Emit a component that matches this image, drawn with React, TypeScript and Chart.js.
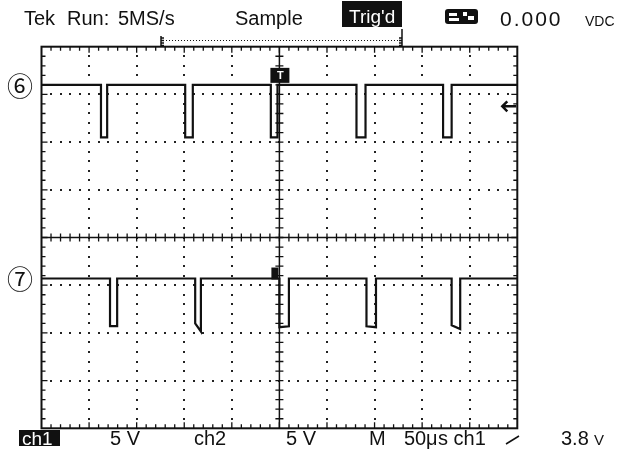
import React, { useEffect, useRef } from "react";
import { Chart, registerables } from "chart.js";

Chart.register(...registerables);

// ---- Data (oscilloscope divisions: x 0..10, y -4..4) ----
const xRange = [0, 10];
const yRange = [-4, 4];

const ch6HighLevel = 3.2;
const ch6LowLevel = 2.1;
const ch6FallEdges = [1.25, 3.02, 4.82, 6.62, 8.44];
const ch6RiseEdges = [1.38, 3.18, 4.96, 6.81, 8.62];

const ch7HighLevel = -0.86;
const ch7FallEdges = [1.44, 3.23, 5.0, 6.83, 8.62];
const ch7RiseEdges = [1.59, 3.35, 5.2, 7.03, 8.8];
const ch7LowStart = [-1.86, -1.8, -1.88, -1.86, -1.84];
const ch7LowEnd = [-1.86, -1.97, -1.86, -1.88, -1.92];

const headerLabels = ["Tek", "Run:", "5MS/s", "Sample"];
const footerLabels = ["5 V", "ch2", "5 V", "M"];

function buildTrace(high: number, falls: number[], rises: number[], lowA: number[], lowB: number[]) {
  const pts: { x: number; y: number }[] = [{ x: xRange[0], y: high }];
  for (let i = 0; i < falls.length; i++) {
    pts.push({ x: falls[i], y: high });
    pts.push({ x: falls[i], y: lowA[i] });
    pts.push({ x: rises[i], y: lowB[i] });
    pts.push({ x: rises[i], y: high });
  }
  pts.push({ x: xRange[1], y: high });
  return pts;
}

const graticule = {
  id: "graticule",
  beforeDatasetsDraw(chart: any) {
    const { ctx, chartArea: a, scales } = chart;
    const xs = scales.x, ys = scales.y;
    ctx.save();
    ctx.fillStyle = "#222";
    for (let i = 1; i < 10; i++) {
      if (i === 5) continue;
      const px = xs.getPixelForValue(i);
      for (let k = 1; k < 40; k++) {
        const py = ys.getPixelForValue(-4 + k * 0.2);
        ctx.fillRect(Math.round(px) - 1, Math.round(py) - 1, 2, 2);
      }
    }
    for (let j = -3; j <= 3; j++) {
      if (j === 0) continue;
      const py = ys.getPixelForValue(j);
      for (let k = 1; k < 50; k++) {
        const px = xs.getPixelForValue(k * 0.2);
        ctx.fillRect(Math.round(px) - 1, Math.round(py) - 1, 2, 2);
      }
    }
    ctx.strokeStyle = "#111";
    const cx = xs.getPixelForValue(5), cy = ys.getPixelForValue(0);
    ctx.lineWidth = 1.5;
    ctx.beginPath();
    ctx.moveTo(a.left, cy); ctx.lineTo(a.right, cy);
    ctx.moveTo(cx, a.top); ctx.lineTo(cx, a.bottom);
    ctx.stroke();
    ctx.lineWidth = 1.3;
    ctx.beginPath();
    for (let k = 1; k < 50; k++) {
      const px = xs.getPixelForValue(k * 0.2);
      ctx.moveTo(px, cy - 4); ctx.lineTo(px, cy + 4);
      ctx.moveTo(px, a.top); ctx.lineTo(px, a.top + (k % 5 === 0 ? 6 : 4));
      ctx.moveTo(px, a.bottom); ctx.lineTo(px, a.bottom - (k % 5 === 0 ? 6 : 4));
    }
    for (let k = 1; k < 40; k++) {
      const py = ys.getPixelForValue(-4 + k * 0.2);
      ctx.moveTo(cx - 4, py); ctx.lineTo(cx + 4, py);
      ctx.moveTo(a.left, py); ctx.lineTo(a.left + (k % 5 === 0 ? 6 : 4), py);
      ctx.moveTo(a.right, py); ctx.lineTo(a.right - (k % 5 === 0 ? 6 : 4), py);
    }
    ctx.stroke();
    ctx.lineWidth = 2;
    ctx.strokeRect(a.left, a.top, a.right - a.left, a.bottom - a.top);
    ctx.restore();
  },
  afterDatasetsDraw(chart: any) {
    const { ctx, chartArea: a, scales } = chart;
    const xs = scales.x, ys = scales.y;
    ctx.save();
    const cx = xs.getPixelForValue(5);
    const y6 = ys.getPixelForValue(ch6HighLevel);
    ctx.fillStyle = "#111";
    ctx.fillRect(cx - 9, y6 - 17, 19, 15);
    ctx.fillStyle = "#fff";
    ctx.font = "bold 11px 'Liberation Sans'";
    ctx.textAlign = "center";
    ctx.textBaseline = "middle";
    ctx.fillText("T", cx + 1, y6 - 9);
    const y7 = ys.getPixelForValue(ch7HighLevel);
    ctx.fillStyle = "#111";
    ctx.fillRect(cx - 8, y7 - 11, 7, 12);
    const ty = ys.getPixelForValue(2.75);
    ctx.strokeStyle = "#111";
    ctx.lineWidth = 2.5;
    ctx.beginPath();
    ctx.moveTo(a.right - 1, ty); ctx.lineTo(a.right - 15, ty);
    ctx.moveTo(a.right - 10, ty - 5); ctx.lineTo(a.right - 15, ty); ctx.lineTo(a.right - 10, ty + 5);
    ctx.stroke();
    ctx.restore();
  },
  afterDraw(chart: any) {
    const { ctx } = chart;
    ctx.save();
    ctx.fillStyle = "#111";
    ctx.textAlign = "left";
    ctx.textBaseline = "alphabetic";
    const f = "'Liberation Sans', Arial, sans-serif";
    ctx.font = `20px ${f}`;
    const hx = [24, 67, 118, 235];
    headerLabels.forEach((t, i) => ctx.fillText(t, hx[i], 25));
    ctx.fillRect(342, 1, 60, 26);
    ctx.fillStyle = "#fff";
    ctx.font = `19px ${f}`;
    ctx.fillText("Trig'd", 349, 23);
    ctx.fillStyle = "#111";
    ctx.beginPath();
    ctx.roundRect(445, 9, 33, 15, 3);
    ctx.fill();
    ctx.fillStyle = "#fff";
    ctx.fillRect(449, 13, 8, 3);
    ctx.fillRect(449, 18, 10, 3);
    ctx.fillRect(463, 12, 4, 4);
    ctx.fillRect(468, 16, 6, 4);
    ctx.fillStyle = "#111";
    ctx.font = `21px ${f}`;
    (ctx as any).letterSpacing = "2px";
    ctx.fillText("0.000", 500, 26);
    (ctx as any).letterSpacing = "0px";
    ctx.font = `14px ${f}`;
    ctx.fillText("VDC", 585, 26);
    ctx.strokeStyle = "#111";
    ctx.lineWidth = 1;
    ctx.setLineDash([1, 2]);
    ctx.beginPath();
    ctx.moveTo(163, 40.5); ctx.lineTo(400, 40.5);
    ctx.stroke();
    ctx.setLineDash([]);
    ctx.lineWidth = 1.5;
    ctx.beginPath();
    ctx.moveTo(161, 36); ctx.lineTo(161, 47);
    ctx.moveTo(402, 29); ctx.lineTo(402, 47);
    for (let k = 0; k < 4; k++) {
      ctx.moveTo(161, 38 + k * 2.5); ctx.lineTo(164, 38 + k * 2.5);
      ctx.moveTo(402, 38 + k * 2.5); ctx.lineTo(399, 38 + k * 2.5);
    }
    ctx.stroke();
    ctx.font = "26px 'Noto Sans CJK JP'";
    ctx.textBaseline = "middle";
    ctx.fillText("⑥", 7, 86);
    ctx.fillText("⑦", 7, 279);
    ctx.textBaseline = "alphabetic";
    ctx.fillRect(19, 430, 41, 16);
    ctx.fillStyle = "#fff";
    ctx.font = `19px ${f}`;
    ctx.fillText("ch1", 22, 445);
    ctx.fillStyle = "#111";
    ctx.font = `20px ${f}`;
    const fx = [110, 194, 286, 369];
    footerLabels.forEach((t, i) => ctx.fillText(t, fx[i], 445));
    ctx.fillText("50", 404, 445);
    ctx.fillText("μ", 426, 445);
    ctx.fillText("s ch1", 438, 445);
    ctx.lineWidth = 1.5;
    ctx.beginPath();
    ctx.moveTo(506, 444); ctx.lineTo(519, 436);
    ctx.stroke();
    ctx.fillText("3.8", 561, 445);
    ctx.font = `15px ${f}`;
    ctx.fillText("V", 594, 445);
    ctx.restore();
  },
};

export default function App() {
  const ref = useRef<HTMLCanvasElement | null>(null);
  useEffect(() => {
    document.body.style.margin = "0";
    const c = ref.current!;
    const chart = new Chart(c, {
      type: "scatter",
      data: {
        datasets: [
          {
            label: "ch6",
            data: buildTrace(ch6HighLevel, ch6FallEdges, ch6RiseEdges, ch6FallEdges.map(() => ch6LowLevel), ch6FallEdges.map(() => ch6LowLevel)),
            showLine: true,
            borderColor: "#111",
            borderWidth: 2.2,
            pointRadius: 0,
            tension: 0,
          },
          {
            label: "ch7",
            data: buildTrace(ch7HighLevel, ch7FallEdges, ch7RiseEdges, ch7LowStart, ch7LowEnd),
            showLine: true,
            borderColor: "#111",
            borderWidth: 2.2,
            pointRadius: 0,
            tension: 0,
          },
        ],
      },
      options: {
        animation: false,
        responsive: false,
        devicePixelRatio: 1,
        layout: { padding: { left: 41.5, right: 116.7, top: 46.7, bottom: 22.7 } },
        plugins: { legend: { display: false }, tooltip: { enabled: false } },
        scales: {
          x: { type: "linear", min: xRange[0], max: xRange[1], display: false },
          y: { type: "linear", min: yRange[0], max: yRange[1], display: false },
        },
      },
      plugins: [graticule],
    });
    return () => chart.destroy();
  }, []);
  return (
    <div style={{ width: 634, height: 451, background: "#fff" }}>
      <canvas ref={ref} width={634} height={451} style={{ display: "block" }} />
    </div>
  );
}
